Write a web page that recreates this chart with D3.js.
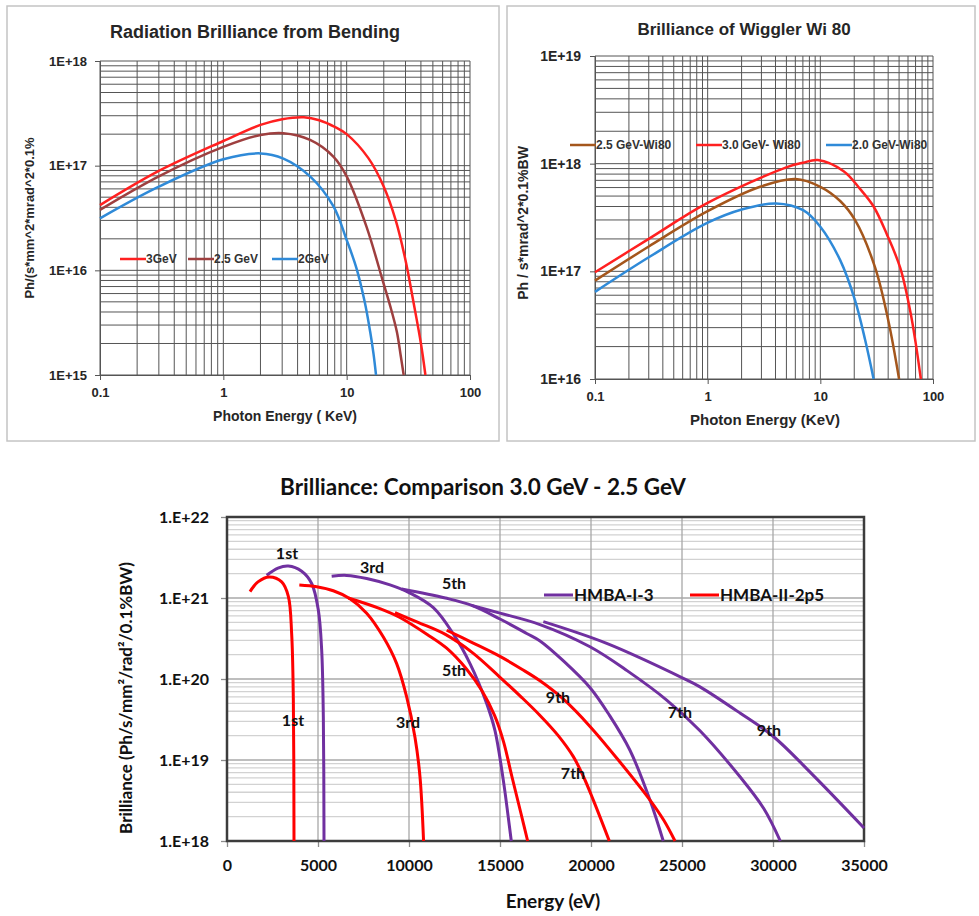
<!DOCTYPE html>
<html>
<head>
<meta charset="utf-8">
<script src="https://cdn.jsdelivr.net/npm/d3@7"></script>
<style>
  body { margin: 0; background: #fff; }
  svg { display: block; }
</style>
</head>
<body>
<script>
// ---- bending magnet (keV, Ph/(s*mm^2*mrad^2*0.1%))
var bend3 = [[0.1,4.2e16],[0.3,8.9e16],[1,1.72e17],[2,2.45e17],[3,2.78e17],[4.5,2.9e17],[6,2.72e17],[8,2.35e17],[10,2.0e17],[15,1.18e17],[20,6.3e16],[25,3.0e16],[30,1.25e16],[35,4.8e15],[40,2.0e15],[43.5,1e15]];
var bend25 = [[0.1,3.78e16],[0.3,7.9e16],[1,1.51e17],[2,1.96e17],[3.07,2.04e17],[5.05,1.76e17],[7.8,1.22e17],[10,7.9e16],[14.5,2.6e16],[19.9,7.5e15],[22.5,4.6e15],[25.5,2.6e15],[27.5,1.5e15],[29,1e15]];
var bend2 = [[0.1,3.14e16],[0.3,6.3e16],[1,1.15e17],[2,1.31e17],[3.07,1.17e17],[5.05,7.9e16],[7.8,4.1e16],[10,1.95e16],[12,1.05e16],[14,5.0e15],[15.5,2.6e15],[16.5,1.6e15],[17.3,1e15]];

// ---- wiggler Wi80 (keV, Ph/s*mrad^2*0.1%BW)
var wig25 = [[0.1,8.2e16],[0.3,1.7e17],[0.98,3.58e17],[2.92,6.1e17],[6.02,7.2e17],[10,6.1e17],[15,4.5e17],[20.3,3.0e17],[30.5,1.1e17],[40.1,3.5e16],[50,1e16]];
var wig30 = [[0.1,9.8e16],[0.3,2.0e17],[0.98,4.27e17],[5.05,9.3e17],[7,1.02e18],[9.5,1.08e18],[16.1,8.5e17],[22.6,5.8e17],[29.7,4.0e17],[39,2.2e17],[51.3,1.07e17],[63,4.2e16],[70,2.2e16],[78,1e16]];
var wig20 = [[0.1,6.45e16],[0.3,1.35e17],[0.98,2.8e17],[2.04,3.77e17],[4.05,4.27e17],[7.04,3.7e17],[10,2.6e17],[15,1.27e17],[20.3,5.4e16],[25,2.3e16],[29.7,1e16]];

// ---- undulator harmonics (eV, Ph/s/mm2/rad2/0.1%BW)
var hmba3_1st = [[2179,1.91e21],[2800,2.34e21],[3370,2.48e21],[4103,2.14e21],[4652,1.51e21],[5018,7.1e20],[5201,2.3e20],[5293,3.4e19],[5330,1e18]];
var hmba3_3rd = [[5751,1.86e21],[6575,1.9e21],[7674,1.74e21],[8956,1.45e21],[10055,1.15e21],[11337,7.6e20],[12436,3.6e20],[13352,1.55e20],[14267,5e19],[14725,2.3e19],[15183,5.6e18],[15450,2e18],[15620,1e18]];
var hmba3_5th = [[9598,1.29e21],[12000,1e21],[13450,8.1e20],[15000,5.5e20],[16466,3.65e20],[17200,2.95e20],[18500,1.66e20],[19950,7.8e19],[21000,3.6e19],[22140,1.32e19],[23240,3.2e18],[23970,1e18]];
var hmba3_7th = [[13443,8.1e20],[15000,6.5e20],[17198,4.7e20],[19945,2.5e20],[22000,1.26e20],[24158,5.5e19],[25989,2.3e19],[28187,6.2e18],[29500,2.5e18],[30400,1e18]];
var hmba3_9th = [[17380,5.1e20],[20862,2.75e20],[25073,1.02e20],[25989,8e19],[28187,3.8e19],[30018,1.95e19],[32172,6.6e18],[35000,1.45e18]];
var hmba25_1st = [[1264,1.2e21],[1700,1.58e21],[2326,1.82e21],[3004,1.58e21],[3370,1.05e21],[3553,3.6e20],[3645,5.5e19],[3681,1e18]];
var hmba25_3rd = [[3974,1.45e21],[4927,1.38e21],[5842,1.23e21],[6758,9.8e20],[7674,6.5e20],[8590,3.3e20],[9322,1.55e20],[9872,6e19],[10330,1.9e19],[10604,6.2e18],[10800,1e18]];
var hmba25_5th = [[6667,1e21],[8400,7.4e20],[9500,5.75e20],[11000,3.55e20],[12070,2.4e20],[13168,1.32e20],[14000,7.2e19],[14700,3.55e19],[15200,1.66e19],[15650,6.3e18],[16150,2.2e18],[16520,1e18]];
var hmba25_7th = [[9231,6.6e20],[10500,5e20],[12000,3.55e20],[13500,2.1e20],[15000,1.05e20],[16200,5.9e19],[17198,3.55e19],[18200,2e19],[19029,1.1e19],[19577,6.3e18],[20128,3.2e18],[21007,1e18]];
var hmba25_9th = [[12070,4e20],[13500,2.8e20],[15000,1.9e20],[16200,1.32e20],[17198,9.5e19],[18500,5.6e19],[19945,2.6e19],[21500,1e19],[23242,3.2e18],[24000,1.8e18],[24615,1e18]];

// harmonic labels (energy eV, brilliance)
var harmonicLabels = [
  ["1st", 3297, 3.6e21], ["3rd", 7967, 2.4e21], ["5th", 12473, 1.53e21],
  ["1st", 3626, 3.1e19], ["3rd", 9945, 2.9e19], ["5th", 12473, 1.26e20],
  ["9th", 18187, 6.0e19], ["7th", 19011, 6.9e18],
  ["7th", 24890, 3.9e19], ["9th", 29780, 2.3e19]
];

var svg = d3.select("body").append("svg")
  .attr("width", 979)
  .attr("height", 916);

function decades(lo, hi) {
  var out = [];
  for (var p = lo; p < hi; p++)
    for (var k = 1; k < 10; k++) out.push(k * Math.pow(10, p));
  out.push(Math.pow(10, hi));
  return out;
}
function majors(lo, hi) {
  return d3.range(lo, hi + 1).map(function (p) { return Math.pow(10, p); });
}
function expOf(d) { return Math.round(Math.log10(d)); }

function drawTopPanel(cfg) {
  var g = svg.append("g")
    .style("font-family", "'Liberation Sans', Arial, sans-serif")
    .style("font-weight", "bold");

  g.append("rect")
    .attr("x", cfg.frame[0]).attr("y", cfg.frame[1])
    .attr("width", cfg.frame[2]).attr("height", cfg.frame[3])
    .attr("fill", "#fff").attr("stroke", "#c4c4c4").attr("stroke-width", 1.5);

  var x = d3.scaleLog().domain([0.1, 100]).range([cfg.left, cfg.right]);
  var y = d3.scaleLog().domain(cfg.yDomain).range([cfg.bottom, cfg.top]);
  var ylo = expOf(cfg.yDomain[0]), yhi = expOf(cfg.yDomain[1]);

  g.append("g").selectAll("line")
    .data(decades(-1, 2)).join("line")
    .attr("x1", function (d) { return x(d); }).attr("x2", function (d) { return x(d); })
    .attr("y1", cfg.top).attr("y2", cfg.bottom)
    .attr("stroke", "#555").attr("stroke-width", 1);

  g.append("g").selectAll("line")
    .data(decades(ylo, yhi)).join("line")
    .attr("y1", function (d) { return y(d); }).attr("y2", function (d) { return y(d); })
    .attr("x1", cfg.left).attr("x2", cfg.right)
    .attr("stroke", "#555").attr("stroke-width", 1);

  var ax = g.append("g")
    .attr("transform", "translate(0," + cfg.bottom + ")")
    .call(d3.axisBottom(x).tickValues(majors(-1, 2)).tickSize(5).tickPadding(8)
      .tickFormat(d3.format("~g")));
  var ay = g.append("g")
    .attr("transform", "translate(" + cfg.left + ",0)")
    .call(d3.axisLeft(y).tickValues(majors(ylo, yhi)).tickSize(5).tickPadding(cfg.yPad)
      .tickFormat(function (d) { return "1E+" + expOf(d); }));
  ax.attr("font-size", 13);
  ay.attr("font-size", cfg.yTickSize);
  [ax, ay].forEach(function (a) {
    a.attr("font-family", null);
    a.select(".domain").attr("stroke", "#555");
    a.selectAll(".tick line").attr("stroke", "#555");
    a.selectAll("text").attr("fill", "#262626");
  });

  var line = d3.line()
    .x(function (d) { return x(d[0]); })
    .y(function (d) { return y(d[1]); })
    .curve(d3.curveCatmullRom.alpha(0.5));

  cfg.series.forEach(function (s) {
    g.append("path")
      .datum(s.values)
      .attr("d", line)
      .attr("fill", "none")
      .attr("stroke", s.color)
      .attr("stroke-width", 2.5);
  });

  g.append("text")
    .attr("x", cfg.titleX).attr("y", cfg.titleY)
    .attr("text-anchor", "middle").attr("font-size", cfg.titleSize).attr("fill", "#262626")
    .text(cfg.title);
  g.append("text")
    .attr("x", cfg.xTitleX).attr("y", cfg.xTitleY)
    .attr("text-anchor", "middle").attr("font-size", cfg.xTitleSize).attr("fill", "#262626")
    .text(cfg.xTitle);
  g.append("text")
    .attr("transform", "translate(" + cfg.yTitleX + "," + cfg.yTitleY + ") rotate(-90)")
    .attr("text-anchor", "middle").attr("dy", "0.35em")
    .attr("font-size", cfg.yTitleSize).attr("fill", "#262626")
    .text(cfg.yTitle);

  cfg.series.forEach(function (s, i) {
    var lx = cfg.legendX[i];
    g.append("line")
      .attr("x1", lx).attr("x2", lx + 26)
      .attr("y1", cfg.legendY).attr("y2", cfg.legendY)
      .attr("stroke", s.color).attr("stroke-width", 2.5);
    g.append("text")
      .attr("x", lx + 26).attr("y", cfg.legendY).attr("dy", "0.35em")
      .attr("font-size", 12).attr("fill", "#333")
      .text(s.name);
  });
}

drawTopPanel({
  frame: [7, 6, 492, 435],
  left: 100, right: 470, top: 61, bottom: 375,
  yDomain: [1e15, 1e18], yPad: 8, yTickSize: 13,
  title: "Radiation Brilliance from Bending", titleX: 255, titleY: 38, titleSize: 18,
  xTitle: "Photon Energy ( KeV)", xTitleX: 285, xTitleY: 421, xTitleSize: 14,
  yTitle: "Ph/(s*mm^2*mrad^2*0.1%", yTitleX: 29, yTitleY: 218, yTitleSize: 13,
  legendY: 259, legendX: [120, 188, 272],
  series: [
    { name: "3GeV", color: "#ff2020", values: bend3 },
    { name: "2.5 GeV", color: "#9e3f3f", values: bend25 },
    { name: "2GeV", color: "#2f8ad8", values: bend2 }
  ]
});

drawTopPanel({
  frame: [507, 6, 468, 435],
  left: 595, right: 933, top: 56, bottom: 379,
  yDomain: [1e16, 1e19], yPad: 9, yTickSize: 14,
  title: "Brilliance of Wiggler Wi 80", titleX: 744, titleY: 35, titleSize: 17,
  xTitle: "Photon Energy (KeV)", xTitleX: 765, xTitleY: 425, xTitleSize: 15,
  yTitle: "Ph / s*mrad^2*0.1%BW", yTitleX: 523, yTitleY: 223, yTitleSize: 14,
  legendY: 145, legendX: [570, 696, 826],
  series: [
    { name: "2.5 GeV-Wi80", color: "#a4561c", values: wig25 },
    { name: "3.0 GeV- Wi80", color: "#ff2020", values: wig30 },
    { name: "2.0 GeV-Wi80", color: "#2f8ad8", values: wig20 }
  ]
});

// ---- bottom comparison chart
var purple = "#7030a0", red = "#ff0000";
var bg = svg.append("g")
  .style("font-family", "Lato, 'Open Sans', sans-serif")
  .style("font-weight", "bold");

var bx = d3.scaleLinear().domain([0, 35000]).range([227, 864]);
var by = d3.scaleLog().domain([1e18, 1e22]).range([841, 517]);

bg.append("g").selectAll("line")
  .data(decades(18, 22).filter(function (d) { return Math.abs(Math.log10(d) % 1) > 1e-9; }))
  .join("line")
  .attr("x1", bx(0)).attr("x2", bx(35000))
  .attr("y1", function (d) { return by(d); }).attr("y2", function (d) { return by(d); })
  .attr("stroke", "#d2d2d2").attr("stroke-width", 1.3);
bg.append("g").selectAll("line")
  .data(majors(18, 22)).join("line")
  .attr("x1", bx(0)).attr("x2", bx(35000))
  .attr("y1", function (d) { return by(d); }).attr("y2", function (d) { return by(d); })
  .attr("stroke", "#a8a8a8").attr("stroke-width", 1.3);
bg.append("g").selectAll("line")
  .data(d3.range(5000, 35000, 5000)).join("line")
  .attr("x1", function (d) { return bx(d); }).attr("x2", function (d) { return bx(d); })
  .attr("y1", by(1e22)).attr("y2", by(1e18))
  .attr("stroke", "#a8a8a8").attr("stroke-width", 1.3);

var bAxX = bg.append("g")
  .attr("transform", "translate(0," + by(1e18) + ")")
  .call(d3.axisBottom(bx).tickValues(d3.range(0, 35001, 5000)).tickSize(6).tickPadding(13)
    .tickFormat(d3.format("d")));
var bAxY = bg.append("g")
  .attr("transform", "translate(" + bx(0) + ",0)")
  .call(d3.axisLeft(by).tickValues(majors(18, 22)).tickSize(6).tickPadding(12)
    .tickFormat(function (d) { return "1.E+" + expOf(d); }));
[bAxX, bAxY].forEach(function (a) {
  a.attr("font-family", null).attr("font-size", 16);
  a.select(".domain").remove();
  a.selectAll(".tick line").attr("stroke", "#8c8c8c").attr("stroke-width", 1.3);
  a.selectAll("text").attr("fill", "#111");
});

bg.append("rect")
  .attr("x", bx(0)).attr("y", by(1e22))
  .attr("width", bx(35000) - bx(0)).attr("height", by(1e18) - by(1e22))
  .attr("fill", "none").attr("stroke", "#3c3c3c").attr("stroke-width", 2.5);

var bLine = d3.line()
  .x(function (d) { return bx(d[0]); })
  .y(function (d) { return by(d[1]); })
  .curve(d3.curveCatmullRom.alpha(0.5));

[hmba3_1st, hmba3_3rd, hmba3_5th, hmba3_7th, hmba3_9th].forEach(function (s) {
  bg.append("path").datum(s).attr("d", bLine)
    .attr("fill", "none").attr("stroke", purple).attr("stroke-width", 3);
});
[hmba25_1st, hmba25_3rd, hmba25_5th, hmba25_7th, hmba25_9th].forEach(function (s) {
  bg.append("path").datum(s).attr("d", bLine)
    .attr("fill", "none").attr("stroke", red).attr("stroke-width", 3);
});

bg.append("g").selectAll("text")
  .data(harmonicLabels).join("text")
  .attr("x", function (d) { return bx(d[1]); })
  .attr("y", function (d) { return by(d[2]); })
  .attr("dy", "0.35em").attr("text-anchor", "middle")
  .attr("font-size", 16).attr("fill", "#111")
  .text(function (d) { return d[0]; });

[["HMBA-I-3", purple, 544], ["HMBA-II-2p5", red, 690]].forEach(function (it) {
  bg.append("line")
    .attr("x1", it[2]).attr("x2", it[2] + 29)
    .attr("y1", 595).attr("y2", 595)
    .attr("stroke", it[1]).attr("stroke-width", 3);
  bg.append("text")
    .attr("x", it[2] + 30).attr("y", 595).attr("dy", "0.35em")
    .attr("font-size", 17).attr("fill", "#111")
    .text(it[0]);
});

bg.append("text")
  .attr("x", 483).attr("y", 495)
  .attr("text-anchor", "middle").attr("font-size", 22.5).attr("fill", "#111")
  .text("Brilliance: Comparison 3.0 GeV - 2.5 GeV");
bg.append("text")
  .attr("x", 553).attr("y", 908)
  .attr("text-anchor", "middle").attr("font-size", 19).attr("fill", "#111")
  .text("Energy (eV)");
bg.append("text")
  .attr("transform", "translate(126,698) rotate(-90)")
  .attr("text-anchor", "middle").attr("dy", "0.35em")
  .attr("font-size", 17).attr("fill", "#111")
  .text("Brilliance (Ph/s/mm\u00b2/rad\u00b2/0.1%BW)");
</script>
</body>
</html>
